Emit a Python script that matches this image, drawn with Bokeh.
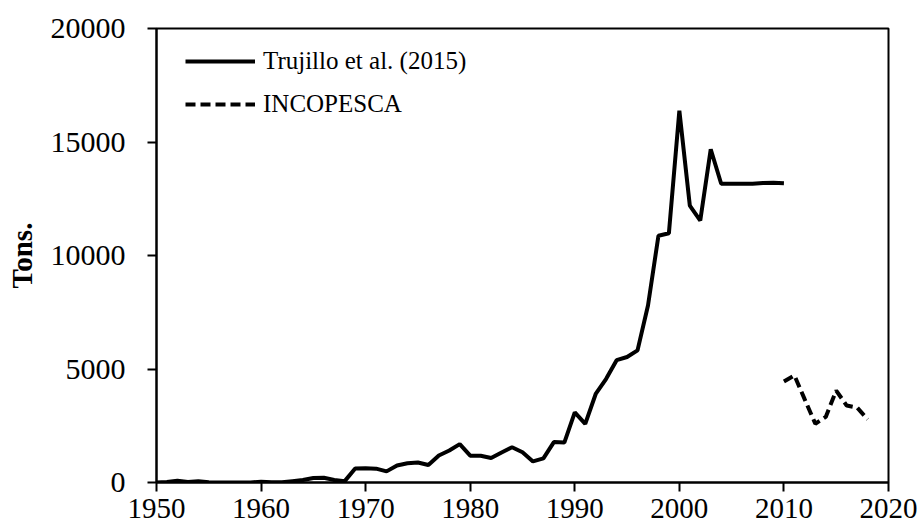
from bokeh.plotting import figure
from bokeh.models import Range1d, FixedTicker, Legend, LegendItem
from bokeh.embed import file_html
from bokeh.resources import INLINE

# Trujillo et al. (2015) series
years_trujillo = list(range(1950, 2011))
tons_trujillo = [
    0, 20, 80, 20, 50, 10, 5, 5, 5, 5,            # 1950-1959
    30, 10, 10, 60, 110, 200, 210, 110, 60, 620,  # 1960-1969
    630, 610, 490, 750, 850, 880, 770, 1190, 1410, 1690,  # 1970-1979
    1180, 1180, 1080, 1320, 1550, 1330, 930, 1060, 1780, 1760,  # 1980-1989
    3090, 2580, 3900, 4570, 5390, 5530, 5820, 7800, 10870, 10980,  # 1990-1999
    16380, 12200, 11540, 14680, 13160, 13160, 13160, 13160, 13190, 13200,  # 2000-2009
    13180,  # 2010
]

# INCOPESCA series
years_incopesca = list(range(2010, 2019))
tons_incopesca = [4450, 4720, 3650, 2590, 2890, 4050, 3390, 3300, 2780]

x_ticks = [1950, 1960, 1970, 1980, 1990, 2000, 2010, 2020]
y_ticks = [0, 5000, 10000, 15000, 20000]

FONT = "Liberation Serif"

p = figure(frame_width=732, frame_height=454, output_backend="svg", toolbar_location=None,
           x_range=Range1d(1950, 2020), y_range=Range1d(0, 20000),
           min_border_left=156, min_border_right=34, min_border_top=28, min_border_bottom=49)

p.background_fill_color = "white"
p.border_fill_color = "white"
p.outline_line_color = "black"
p.outline_line_width = 2
p.xgrid.visible = False
p.ygrid.visible = False

r1 = p.line(years_trujillo, tons_trujillo, line_color="black", line_width=4)
r2 = p.line(years_incopesca, tons_incopesca, line_color="black", line_width=4,
            line_dash="10 5")

for ax in (p.xaxis[0], p.yaxis[0]):
    ax.axis_line_color = "black"
    ax.axis_line_width = 2
    ax.major_tick_line_color = "black"
    ax.major_tick_line_width = 2
    ax.major_tick_in = 0
    ax.major_tick_out = 9
    ax.minor_tick_line_color = None
    ax.major_label_text_font = FONT
    ax.major_label_text_color = "black"

p.xaxis[0].major_label_text_font_size = "29px"
p.yaxis[0].major_label_text_font_size = "30px"
p.xaxis[0].ticker = FixedTicker(ticks=x_ticks)
p.yaxis[0].ticker = FixedTicker(ticks=y_ticks)
p.xaxis[0].major_label_standoff = 7
p.yaxis[0].major_label_standoff = 22

p.yaxis[0].axis_label = "Tons."
p.yaxis[0].axis_label_text_font = FONT
p.yaxis[0].axis_label_text_font_size = "29px"
p.yaxis[0].axis_label_text_font_style = "bold"
p.yaxis[0].axis_label_text_color = "black"
p.yaxis[0].axis_label_standoff = 10

legend = Legend(items=[LegendItem(label="Trujillo et al. (2015)", renderers=[r1]),
                       LegendItem(label="INCOPESCA", renderers=[r2])],
                location=(29, 363))
legend.label_text_font = FONT
legend.label_text_font_size = "25px"
legend.label_text_color = "black"
legend.glyph_width = 70
legend.glyph_height = 30
legend.label_height = 30
legend.label_standoff = 8
legend.spacing = 13
legend.padding = 0
legend.margin = 0
legend.border_line_color = None
legend.background_fill_alpha = 0
p.add_layout(legend)

open("out.html", "w").write(file_html(p, INLINE))
